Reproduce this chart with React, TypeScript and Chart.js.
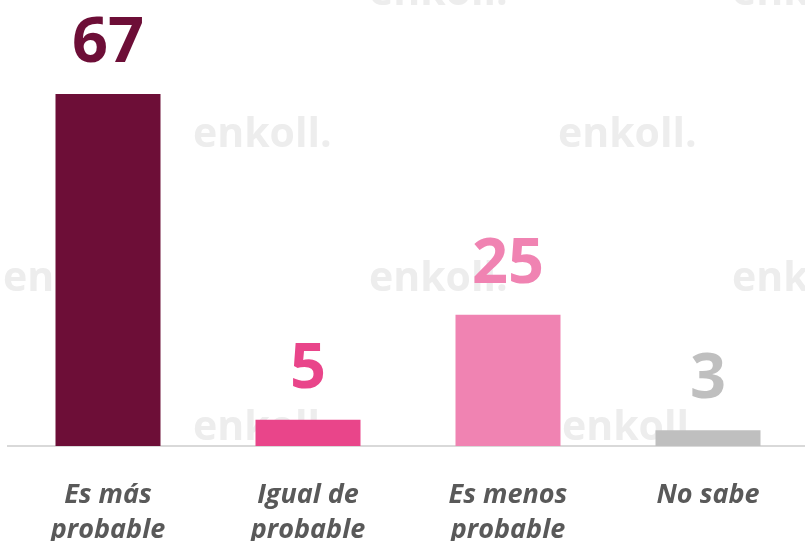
import React, { useEffect, useRef } from "react";
import { Chart, registerables } from "chart.js";

Chart.register(...registerables);

const categories: string[][] = [
  ["Es más", "probable"],
  ["Igual de", "probable"],
  ["Es menos", "probable"],
  ["No sabe"],
];
const values: number[] = [67, 5, 25, 3];
const barColors: string[] = ["#6D0E37", "#E9458A", "#F083B2", "#BFBFBF"];
const watermarkText = "enkoll.";

const watermarkPlugin = {
  id: "watermark",
  beforeDatasetsDraw(chart: any) {
    const ctx = chart.ctx;
    const spots: [number, number][] = [
      [369, 5], [732, 5],
      [193, 147], [558, 147],
      [3, 291], [369, 291], [732, 291],
      [193, 440], [562, 440],
    ];
    ctx.save();
    ctx.fillStyle = "#ededed";
    ctx.font = "bold 41px 'Open Sans'";
    ctx.textAlign = "left";
    ctx.textBaseline = "alphabetic";
    spots.forEach(([x, y]) => ctx.fillText(watermarkText, x, y));
    ctx.restore();
  },
};

const valueLabelPlugin = {
  id: "valueLabels",
  afterDatasetsDraw(chart: any) {
    const ctx = chart.ctx;
    const meta = chart.getDatasetMeta(0);
    ctx.save();
    ctx.font = "bold 63px 'Open Sans'";
    ctx.textAlign = "center";
    ctx.textBaseline = "alphabetic";
    meta.data.forEach((bar: any, i: number) => {
      ctx.fillStyle = barColors[i];
      ctx.fillText(String(values[i]), bar.x, bar.y - 32);
    });
    ctx.restore();
  },
};

export default function App() {
  const ref = useRef<HTMLCanvasElement>(null);
  useEffect(() => {
    if (!ref.current) return;
    const chart = new Chart(ref.current, {
      type: "bar",
      data: {
        labels: categories,
        datasets: [
          {
            data: values,
            backgroundColor: barColors,
            borderWidth: 0,
            categoryPercentage: 1,
            barPercentage: 0.525,
          },
        ],
      },
      options: {
        responsive: false,
        animation: false,
        layout: { padding: { top: 94, left: 8, right: 0, bottom: 0 } },
        plugins: { legend: { display: false }, tooltip: { enabled: false } },
        scales: {
          y: { display: false, min: 0, max: 67 },
          x: {
            afterFit: (axis: any) => {
              axis.height = 95;
            },
            grid: { display: false, drawTicks: false },
            border: { display: true, color: "#d9d9d9", width: 2 },
            ticks: {
              padding: 32,
              color: "#595959",
              maxRotation: 0,
              autoSkip: false,
              font: { family: "'Open Sans'", size: 27, weight: "bold", style: "italic", lineHeight: 1.3 },
            },
          },
        },
      },
      plugins: [watermarkPlugin, valueLabelPlugin],
    });
    return () => chart.destroy();
  }, []);
  return (
    <div style={{ position: "fixed", left: 0, top: 0, width: 805, height: 541, overflow: "hidden", background: "#fff" }}>
      <canvas ref={ref} width={808} height={541} style={{ display: "block" }} />
    </div>
  );
}
